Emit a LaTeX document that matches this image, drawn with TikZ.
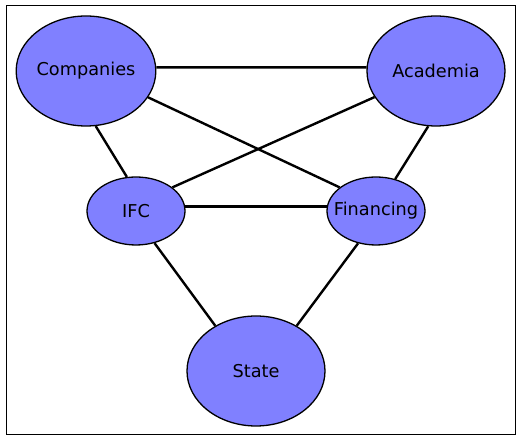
\documentclass[tikz,border=0pt]{standalone}
\usepackage{fontspec}
\setmainfont{DejaVu Sans}
\usepackage{tikz}
\usetikzlibrary{shapes.geometric, positioning}
\definecolor{blobblue}{RGB}{128,128,255}
\tikzstyle{bigblob} = [ellipse, draw, fill=blobblue, line width=1.3pt, inner sep=0pt, minimum width=138pt, minimum height=110pt, text centered, font=\fontsize{17.7}{20}\selectfont]
\tikzstyle{smallblob} = [bigblob, inner xsep=-12pt, minimum width=98pt, minimum height=68pt]
\tikzstyle{link} = [line width=2.4pt]

\begin{document}
\begin{tikzpicture}[node distance=10pt, x=1pt, y=1pt]
\useasboundingbox (0,0) rectangle (520,441);
\draw[line width=1pt] (6,6) rectangle (515,435);

% Nodes for the actors
\node (comp) [bigblob] at (86,370) {Companies};
\node (acad) [bigblob, right of=comp, xshift=340pt] {Academia};
\node (ifc) [smallblob, below of=comp, yshift=-130pt, xshift=50pt] {IFC};
\node (fin) [smallblob, below of=acad, yshift=-130pt, xshift=-60pt] {Financing};
\node (state) [bigblob, below of=ifc, yshift=-150pt, xshift=120pt] {State};

% Links between the actors
\draw[link] (comp.3) -- (acad.177);
\draw[link] (comp.-80) -- (ifc.105);
\draw[link] (comp.-23) -- (fin.147);
\draw[link] (ifc.33) -- (acad.203);
\draw[link] (ifc.5) -- (fin.175);
\draw[link] (acad.-98) -- (fin.59);
\draw[link] (ifc.-60) -- (state.132);
\draw[link] (fin.-119) -- (state.48);

\end{tikzpicture}
\end{document}
